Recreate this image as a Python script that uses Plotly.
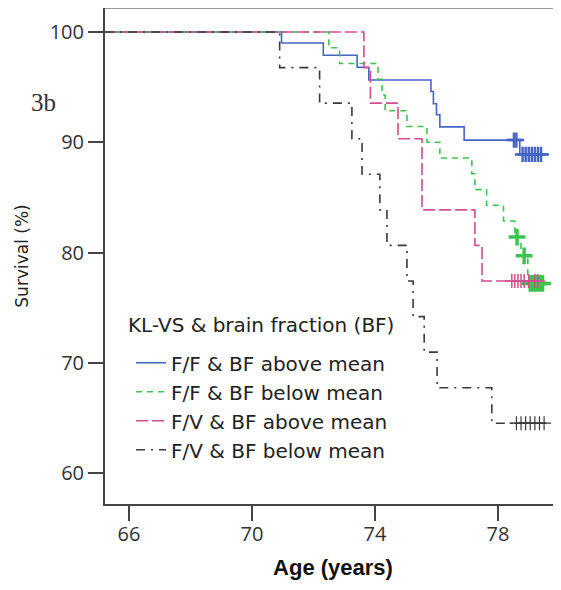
import plotly.graph_objects as go

# ---------------- data ----------------
# F/F & BF above mean
blue_age = [65.22, 70.96, 72.32, 73.42, 73.80, 75.82, 75.90, 76.00, 76.11, 76.90, 78.71, 79.65]
blue_surv = [100, 99.0, 97.9, 96.8, 95.65, 94.6, 93.5, 92.5, 91.4, 90.2, 88.9, 88.9]
blue_cens_age = [78.52, 78.60, 78.80, 78.90, 79.00, 79.10, 79.20, 79.30, 79.40]
blue_cens_surv = [90.2, 90.2, 88.9, 88.9, 88.9, 88.9, 88.9, 88.9, 88.9]

# F/F & BF below mean
green_age = [65.22, 72.50, 72.85, 74.10, 74.23, 74.33, 75.04, 75.69, 76.11, 77.15, 77.25,
             77.63, 78.18, 78.55, 78.75, 78.97, 79.55]
green_surv = [100, 98.57, 97.14, 95.71, 94.29, 92.86, 91.43, 90.0, 88.57, 87.14, 85.71,
              84.29, 82.86, 81.4, 79.7, 77.2, 77.2]
green_cens_age = [78.62, 78.85, 79.05, 79.15, 79.25, 79.35, 79.45]
green_cens_surv = [81.4, 79.7, 77.2, 77.2, 77.2, 77.2, 77.2]

# F/V & BF above mean
pink_age = [65.22, 73.64, 73.85, 74.75, 75.53, 77.25, 77.48, 79.35]
pink_surv = [100, 96.77, 93.55, 90.32, 83.87, 80.65, 77.42, 77.42]
pink_cens_age = [78.45, 78.55, 78.65, 78.75, 78.85, 79.00, 79.20, 79.30]
pink_cens_surv = [77.42] * 8

# F/V & BF below mean
black_age = [65.22, 70.90, 72.20, 73.25, 73.58, 74.16, 74.39, 75.04, 75.24, 75.60, 76.02, 77.80, 79.55]
black_surv = [100, 96.77, 93.55, 90.32, 87.10, 83.87, 80.65, 77.42, 74.19, 70.97, 67.74, 64.52, 64.52]
black_cens_age = [78.60, 78.75, 78.90, 79.05, 79.20, 79.35, 79.50]
black_cens_surv = [64.52] * 7

x_ticks = [66, 70, 74, 78]
y_ticks = [60, 70, 80, 90, 100]

legend_title = "KL-VS & brain fraction (BF)"
names = ["F/F & BF above mean", "F/F & BF below mean", "F/V & BF above mean", "F/V & BF below mean"]
# --------------------------------------------------------------

BLUE = "#4565c5"
GREEN = "#3cc44e"
PINK = "#d24e92"
BLACK = "#3a3a3a"

fig = go.Figure()

series = [
    (blue_age, blue_surv, blue_cens_age, blue_cens_surv, BLUE, "solid", 11, 2.5),
    (green_age, green_surv, green_cens_age, green_cens_surv, GREEN, "6px,5px", 12, 3.5),
    (pink_age, pink_surv, pink_cens_age, pink_cens_surv, PINK, "12px,4px", 10, 1.5),
    (black_age, black_surv, black_cens_age, black_cens_surv, BLACK, "9px,6px,2px,6px", 10, 1.2),
]

for (ax, sv, cx, cs, col, dash, msize, mw), nm in zip(series, names):
    fig.add_trace(go.Scatter(
        x=ax, y=sv, mode="lines", line_shape="hv", name=nm,
        line=dict(color=col, width=1.6, dash=dash),
    ))

for (ax, sv, cx, cs, col, dash, msize, mw), nm in zip(series, names):
    fig.add_trace(go.Scatter(
        x=cx, y=cs, mode="markers", showlegend=False, hoverinfo="skip",
        marker=dict(symbol="cross-thin", size=msize, line=dict(color=col, width=mw)),
    ))

TICK_FONT = dict(family="Open Sans", size=20, color="#333333")

fig.update_xaxes(
    range=[65.22, 80.05], tickvals=x_ticks, ticktext=[str(v) for v in x_ticks],
    ticks="outside", ticklen=15, tickwidth=2, tickcolor="#444444",
    showline=True, linecolor="#444444", linewidth=2, showgrid=False, zeroline=False,
    tickfont=TICK_FONT, ticklabelstandoff=-4,
    title=dict(text="<b>Age (years)</b>", font=dict(family="Liberation Sans", size=22, color="#111111"),
               standoff=14),
)
fig.update_yaxes(
    range=[57.19, 102.18], tickvals=y_ticks, ticktext=[str(v) for v in y_ticks],
    ticks="outside", ticklen=15, tickwidth=2, tickcolor="#444444",
    showline=True, linecolor="#444444", linewidth=2, showgrid=False, zeroline=False,
    tickfont=TICK_FONT, ticklabelstandoff=0,
    title=dict(text="Survival (%)", font=dict(family="DejaVu Sans", size=17, color="#222222"),
               standoff=17),
)

LEG_FONT = dict(family="DejaVu Sans", size=20, color="#222222")

# the page body has an 8px margin, so the figure is laid out shifted by -8px
fig.update_layout(
    width=561, height=590,
    margin=dict(l=97, r=8, t=0, b=94),
    plot_bgcolor="white", paper_bgcolor="white",
    legend=dict(
        font=LEG_FONT,
        x=0.057, y=0.324, xanchor="left", yanchor="top",
        bgcolor="rgba(0,0,0,0)", itemwidth=30, tracegroupgap=0,
    ),
    shapes=[dict(type="line", xref="paper", yref="paper", x0=0, x1=1, y0=1, y1=1,
                 line=dict(color="#999999", width=2))],
    annotations=[
        dict(text="3b", xref="paper", yref="paper", x=-0.166, y=0.81,
             xanchor="left", yanchor="middle", showarrow=False,
             font=dict(family="Liberation Serif", size=25, color="#333333")),
        dict(text=legend_title, xref="paper", yref="paper", x=0.046, y=0.361,
             xanchor="left", yanchor="middle", showarrow=False, font=LEG_FONT),
    ],
)

fig.write_html("out.html")
